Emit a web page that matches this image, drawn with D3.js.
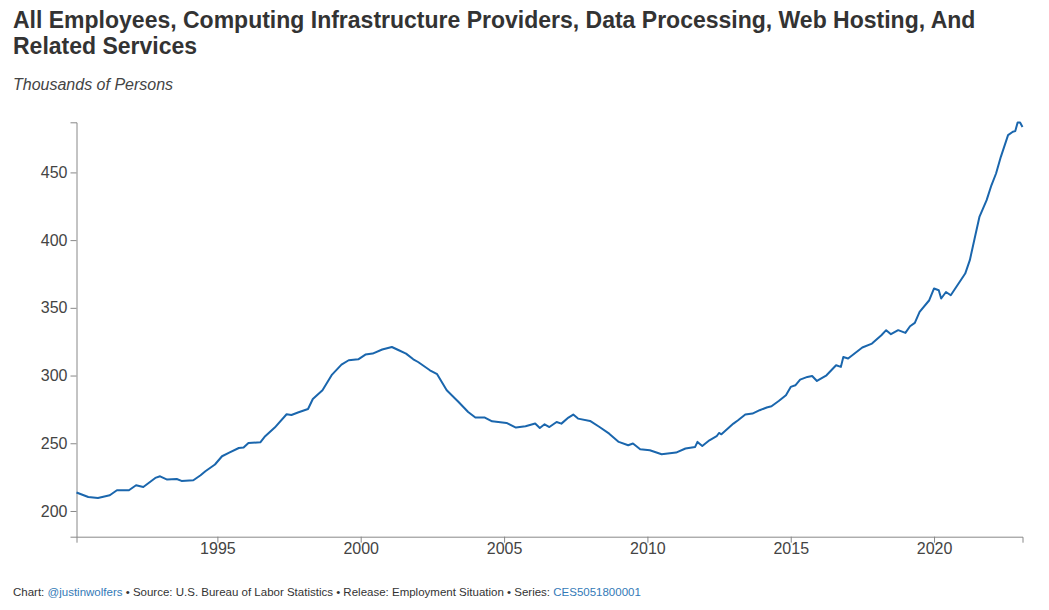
<!DOCTYPE html>
<html>
<head>
<meta charset="utf-8">
<script src="https://cdn.jsdelivr.net/npm/d3@7"></script>
<style>
  body { margin: 0; background: #fff; font-family: "Liberation Sans", Arial, sans-serif; }
  .axis text { font-family: "Liberation Sans", Arial, sans-serif; font-size: 16px; fill: #444; }
  .axis path, .axis line { stroke: #888; }
</style>
</head>
<body>
<svg id="chart"></svg>
<script>
const width = 1049;
const height = 610;

// (month, thousands of persons)
const months = [
  "1990-02","1990-07","1990-11","1991-04","1991-07","1991-12","1992-03","1992-06","1992-11",
  "1993-01","1993-04","1993-08","1993-10","1994-03","1994-06","1994-08","1994-12",
  "1995-03","1995-06","1995-10","1995-12","1996-02","1996-07","1996-09",
  "1997-01","1997-06","1997-08","1997-11","1998-03","1998-05","1998-09",
  "1999-01","1999-05","1999-08","1999-12","2000-03","2000-06","2000-10",
  "2001-02","2001-05","2001-08","2001-11","2002-01","2002-06","2002-09",
  "2003-01","2003-06","2003-10","2004-01","2004-05","2004-08",
  "2005-02","2005-06","2005-10","2006-02","2006-04","2006-06","2006-08","2006-11",
  "2007-01","2007-04","2007-06","2007-08","2008-01","2008-05","2008-09",
  "2009-01","2009-05","2009-07","2009-10","2010-02","2010-07",
  "2011-01","2011-05","2011-09","2011-10","2011-12","2012-03","2012-06","2012-07","2012-08",
  "2013-01","2013-03","2013-06","2013-09","2013-12","2014-03","2014-05","2014-08","2014-11",
  "2015-01","2015-03","2015-05","2015-08","2015-10","2015-12","2016-04","2016-08","2016-10","2016-11",
  "2017-01","2017-07","2017-11","2018-03","2018-05","2018-07","2018-10",
  "2019-01","2019-03","2019-05","2019-07","2019-11","2020-01","2020-03","2020-04","2020-06","2020-08",
  "2021-02","2021-04","2021-06","2021-08","2021-11","2022-01","2022-03","2022-05","2022-08",
  "2022-10","2022-11","2022-12","2023-01","2023-02"
];
const employees = [
  213.6,210.3,209.6,211.6,215.3,215.3,219,217.7,224.4,
  225.6,223.2,223.6,222.2,222.7,226.4,229.3,234.3,
  240.4,243.1,246.5,246.8,250.2,250.7,255.2,
  261.6,271.4,270.9,272.9,275.3,282.7,289.1,
  300.7,308.1,311.3,312,315.5,316.2,319.2,
  321.1,318.7,316.2,312,310,303.9,301,
  289.1,280.5,273.1,269,269,266.2,
  265,261.6,262.6,264.6,261.3,264,262,265.7,
  264.5,269,271.2,268.2,266.5,262,257.1,
  251,248.5,249.8,245.6,244.8,241.9,
  243.1,246.1,247.3,251,248,252.2,255.2,257.6,256.6,
  264.5,267,271.2,271.9,274.4,276.4,277.3,281.2,285.5,
  291.6,292.8,297,299,299.7,296,300.2,307.6,306.4,313.7,
  312.6,320.7,323.6,329.8,333.5,330.5,333.5,
  331.5,336.4,338.9,347,355.6,364.3,363,356.9,361.7,359.3,
  375.3,385.2,401.2,417.1,429.5,440.5,449.2,461.5,477.5,
  480,480.5,486.9,486.9,483.6
];
const yTicks = [200, 250, 300, 350, 400, 450];
const xTickYears = [1995, 2000, 2005, 2010, 2015, 2020];

const title = ["All Employees, Computing Infrastructure Providers, Data Processing, Web Hosting, And",
               "Related Services"];
const subtitle = "Thousands of Persons";

const parseMonth = d3.timeParse("%Y-%m");
const data = months.map((m, i) => ({ date: parseMonth(m), value: employees[i] }));

const margin = { top: 122.3, right: 26.5, bottom: 73.3, left: 76.5 };

const svg = d3.select("#chart").attr("width", width).attr("height", height);

const x = d3.scaleTime()
    .domain([parseMonth("1990-02"), parseMonth("2023-02")])
    .range([margin.left, width - margin.right]);
const y = d3.scaleLinear()
    .domain([181, 487])
    .range([height - margin.bottom, margin.top]);

// titles
svg.append("text")
    .attr("x", 13).attr("y", 28)
    .style("font-size", "23px").style("font-weight", "bold").style("fill", "#333")
    .selectAll("tspan")
    .data(title)
    .enter()
    .append("tspan")
    .attr("x", 13)
    .attr("dy", (d, i) => i ? 25.5 : 0)
    .text(d => d);

svg.append("text")
    .attr("x", 13).attr("y", 90)
    .style("font-size", "16px").style("font-style", "italic").style("fill", "#444")
    .text(subtitle);

// axes
svg.append("g")
    .attr("class", "axis")
    .attr("transform", `translate(0,${height - margin.bottom})`)
    .call(d3.axisBottom(x)
        .tickValues(xTickYears.map(yr => new Date(yr, 0, 1)))
        .tickFormat(d3.timeFormat("%Y"))
        .tickSizeOuter(6))
    .selectAll("text").attr("dy", "0.52em");

svg.append("g")
    .attr("class", "axis")
    .attr("transform", `translate(${margin.left},0)`)
    .call(d3.axisLeft(y).tickValues(yTicks).tickSizeOuter(6));

// line
const line = d3.line()
    .x(d => x(d.date))
    .y(d => y(d.value));

svg.append("path")
    .datum(data)
    .attr("d", line)
    .style("fill", "none")
    .style("stroke", "#1a66ad")
    .style("stroke-width", "2px")
    .style("stroke-linejoin", "round");

// footer
const footer = svg.append("text")
    .attr("x", 13).attr("y", 596)
    .style("font-size", "11.5px").style("fill", "#333");
footer.append("tspan").text("Chart: ");
footer.append("tspan").style("fill", "#337ab7").text("@justinwolfers");
footer.append("tspan").text(" \u2022 Source: U.S. Bureau of Labor Statistics \u2022 Release: Employment Situation \u2022 Series: ");
footer.append("tspan").style("fill", "#337ab7").text("CES5051800001");
</script>
</body>
</html>
